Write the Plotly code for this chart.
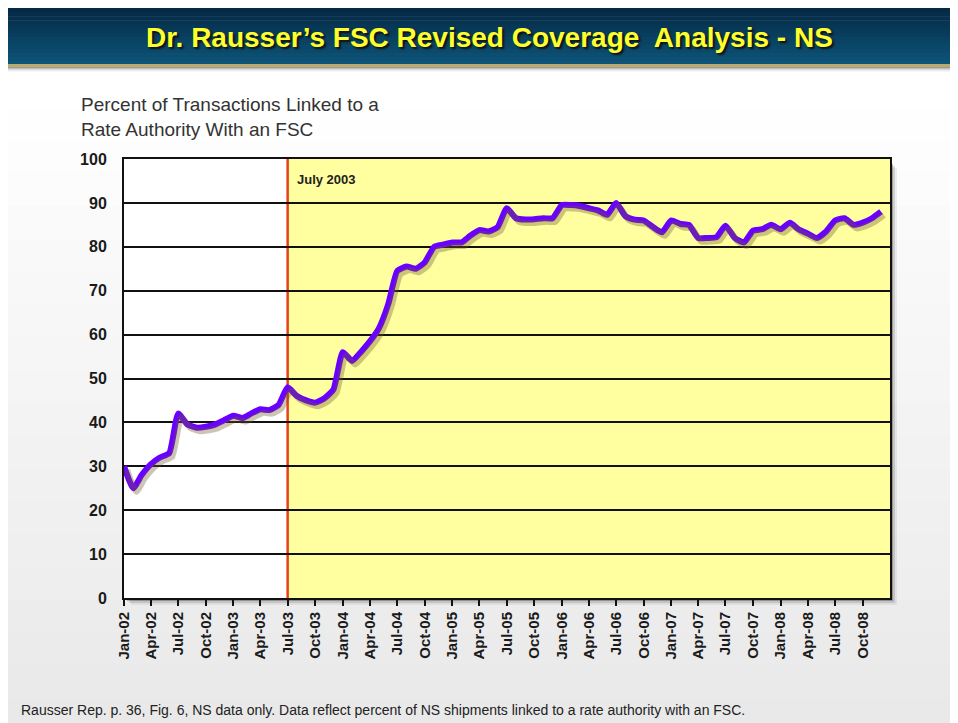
import plotly.graph_objects as go

# monthly observations, Jan-02 .. Dec-08
months = [f"{y}-{m:02d}-01" for y in range(2002, 2009) for m in range(1, 13)]
pct_linked = [
    30, 25, 28, 30.5, 32, 33, 42, 39.5, 38.8, 39, 39.5, 40.5,      # 2002
    41.5, 41, 42, 43, 42.8, 44, 48, 46, 45, 44.5, 45.5, 47.5,      # 2003
    56, 54, 56, 58.5, 61.5, 67, 74.5, 75.5, 75, 76.5, 80, 80.5,    # 2004
    81, 81, 82.5, 83.8, 83.5, 84.5, 88.8, 86.5, 86.2, 86.3, 86.5, 86.5,  # 2005
    89.5, 89.5, 89.3, 88.8, 88.3, 87.3, 90, 87, 86.2, 86, 84.5, 83.3,    # 2006
    86, 85.2, 85, 82, 82, 82.2, 84.8, 82, 81, 83.7, 84, 85,        # 2007
    84, 85.5, 84, 83, 82, 83.5, 86, 86.5, 85, 85.5, 86.5, 88,      # 2008
]
marker_date = "2003-07-01"
marker_label = "July 2003"
x_start, x_end = "2002-01-01", "2008-12-31"

title_text = "Dr. Rausser\u2019s FSC Revised Coverage  Analysis - NS"
ytitle_text = "Percent of Transactions Linked to a<br>Rate Authority With an FSC"
footnote_text = ("Rausser Rep. p. 36, Fig. 6, NS data only. Data reflect percent of NS "
                 "shipments linked to a rate authority with an FSC.")

# the page puts the figure 8px in from the window corner
OFF = 8
W, H = 958, 723
# plot frame in window pixels: x 124..890, y 159..598
L, T = 124 - OFF, 159 - OFF
R, B = W - (890 - OFF), H - (598 - OFF)
PW, PH = W - L - R, H - T - B


def px_x(p):
    return (p - OFF - L) / PW


def px_y(p):
    return (H - B - (p - OFF)) / PH


def hexmix(c1, c2, t):
    a = [int(c1[i:i + 2], 16) for i in (1, 3, 5)]
    b = [int(c2[i:i + 2], 16) for i in (1, 3, 5)]
    return "#" + "".join(f"{round(a[k] + (b[k] - a[k]) * t):02x}" for k in range(3))


def prect(x0, y0, x1, y1, color, **kw):
    return dict(type="rect", xref="paper", yref="paper",
                x0=px_x(x0), x1=px_x(x1), y0=px_y(y0), y1=px_y(y1),
                fillcolor=color, line_width=0, layer="below", **kw)


shapes = []
# page background, white fading to light grey
n = 20
for i in range(n):
    y0 = 75 + i * (731 - 75) / n
    shapes.append(prect(8, y0, 966, y0 + (731 - 75) / n + 1,
                        hexmix("#ffffff", "#e9e9e9", i / (n - 1))))
# banner
n = 14
for i in range(n):
    y0 = 8 + i * 57 / n
    shapes.append(prect(8, y0, 966, y0 + 57 / n + 0.6, hexmix("#052a45", "#0d5478", i / (n - 1))))
shapes.append(prect(8, 64, 966, 67, "#b9ab6c"))
for i, c in enumerate(["#9c9c9c", "#bdbdbd", "#d8d8d8", "#ebebeb", "#f6f6f6"]):
    shapes.append(prect(8, 67 + i, 966, 68 + i, c))
# drop shadow of plot frame
for off, c in [(7, "rgba(0,0,0,0.06)"), (5, "rgba(0,0,0,0.12)"), (3, "rgba(0,0,0,0.25)")]:
    shapes.append(prect(124 + off, 159 + off + 2, 890 + off, 598 + off, c))
# plot area: white before July 2003, yellow after
shapes.append(prect(124, 159, 890, 598, "#ffffff"))
shapes.append(dict(type="rect", xref="x", yref="paper", x0=marker_date, x1=x_end,
                   y0=0, y1=1, fillcolor="#ffff9f", line_width=0, layer="below"))
shapes.append(dict(type="line", xref="x", yref="paper", x0=marker_date, x1=marker_date,
                   y0=0, y1=1, line=dict(color="#e8401a", width=2.5), layer="between"))

fig = go.Figure()
# soft shadow under the line, drawn on offset twin axes
fig.add_trace(go.Scatter(
    x=months, y=pct_linked, xaxis="x2", yaxis="y2", mode="lines",
    line=dict(color="rgba(110,90,40,0.35)", width=6, shape="spline", smoothing=0.5),
    hoverinfo="skip", showlegend=False))
fig.add_trace(go.Scatter(
    x=months, y=pct_linked, mode="lines",
    line=dict(color="#6a00ff", width=6, shape="spline", smoothing=0.5),
    showlegend=False))

fig.update_layout(
    width=W, height=H,
    margin=dict(l=L, r=R, t=T, b=B),
    paper_bgcolor="#ffffff", plot_bgcolor="#ffffff",
    font=dict(family="Liberation Sans, Arial, sans-serif", color="#1a1a1a"),
    shapes=shapes,
    xaxis=dict(type="date", range=[x_start, x_end], dtick="M3", tick0=x_start,
               tickformat="%b-%y", tickangle=-90, ticks="outside", ticklen=6,
               tickcolor="#111", tickwidth=1.5,
               showgrid=False, showline=True, linecolor="#111", linewidth=2, mirror=True,
               tickfont=dict(size=15, weight="bold", color="#1a1a1a")),
    yaxis=dict(range=[0, 100], dtick=10, showgrid=True, gridcolor="#111", gridwidth=1.5,
               showline=True, linecolor="#111", linewidth=2, mirror=True,
               ticks="", ticklabelstandoff=12, zeroline=False,
               tickfont=dict(size=16, weight="bold", color="#1a1a1a")),
    xaxis2=dict(type="date", overlaying="x", visible=False,
                range=["2001-12-22", "2008-12-21"]),
    yaxis2=dict(overlaying="y", visible=False, range=[0.8, 100.8]),
    annotations=[
        dict(text=title_text, xref="paper", yref="paper", x=px_x(489), y=px_y(37),
             xanchor="center", yanchor="middle", showarrow=False,
             font=dict(size=28, color="#ffff2e", weight="bold",
                       shadow="2px 2px 2px #111")),
        dict(text=ytitle_text, xref="paper", yref="paper", x=px_x(79), y=px_y(92),
             xanchor="left", yanchor="top", align="left", showarrow=False,
             font=dict(size=19, color="#333333")),
        dict(text=marker_label, xref="x", yref="paper", x=marker_date, y=px_y(180),
             xanchor="left", yanchor="middle", xshift=7, showarrow=False,
             font=dict(size=13, weight="bold", color="#222")),
        dict(text=footnote_text, xref="paper", yref="paper", x=px_x(19), y=px_y(710),
             xanchor="left", yanchor="middle", showarrow=False,
             font=dict(size=14, color="#222")),
    ],
)

fig.write_html("out.html")
